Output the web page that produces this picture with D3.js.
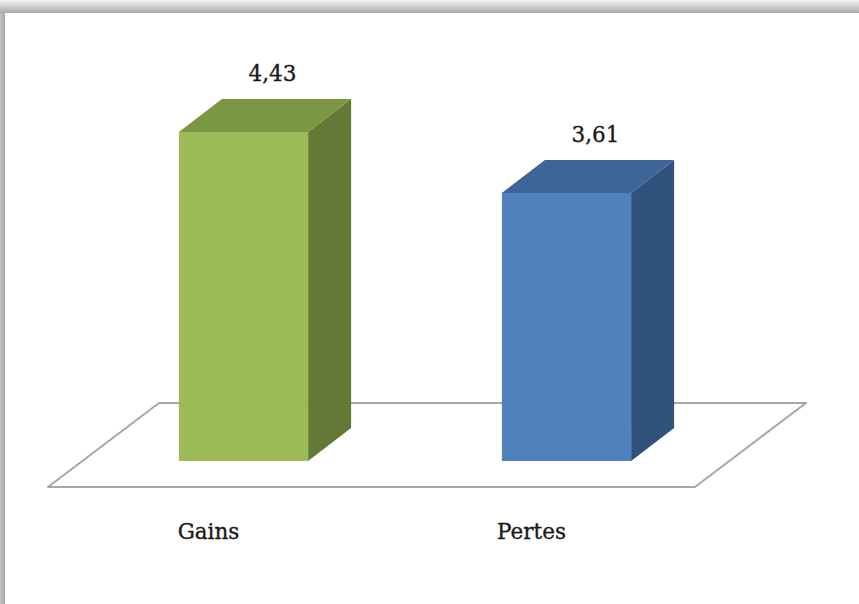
<!DOCTYPE html>
<html><head><meta charset="utf-8">
<script src="https://cdn.jsdelivr.net/npm/d3@7"></script>
<style>html,body{margin:0;padding:0;background:#fff;}svg{display:block;}</style>
</head><body>
<script>
const categories = ["Gains", "Pertes"];
const values = [4.43, 3.61];
const valueLabels = ["4,43", "3,61"];
const frontColors = ["#9BBB59", "#4F81BD"];
const topColors = ["#7B9744", "#3E6597"];
const sideColors = ["#627A36", "#30527D"];

const W = 859, H = 604;
const svg = d3.select("body").append("svg").attr("width", W).attr("height", H);
const defs = svg.append("defs");
const gTop = defs.append("linearGradient").attr("id","shTop").attr("x1",0).attr("y1",0).attr("x2",0).attr("y2",1);
gTop.append("stop").attr("offset","0%").attr("stop-color","#f2f2f2");
gTop.append("stop").attr("offset","100%").attr("stop-color","#a9a9a9");
const gLeft = defs.append("linearGradient").attr("id","shLeft").attr("x1",0).attr("y1",0).attr("x2",1).attr("y2",0);
gLeft.append("stop").attr("offset","0%").attr("stop-color","#c4c4c4");
gLeft.append("stop").attr("offset","100%").attr("stop-color","#a6a6a6");

svg.append("rect").attr("x",0).attr("y",0).attr("width",W).attr("height",H).attr("fill","#fff");
svg.append("rect").attr("x",0).attr("y",0).attr("width",W).attr("height",13).attr("fill","url(#shTop)");
svg.append("rect").attr("x",0).attr("y",13).attr("width",5).attr("height",H-13).attr("fill","url(#shLeft)");

// scales
const y = d3.scaleLinear().domain([0, 5]).range([461, 89.7]);
const x = d3.scaleBand().domain(categories).range([82, 728]).paddingInner(0.6).paddingOuter(0.3);
const bw = x.bandwidth();
const dx = 43, dy = -33;

// floor
const fx0 = 48, fy0 = 487, fw = 647, fdx = 111, fdy = -84;
svg.append("path")
  .attr("d", `M${fx0},${fy0} L${fx0+fw},${fy0} L${fx0+fw+fdx},${fy0+fdy} L${fx0+fdx},${fy0+fdy} Z`)
  .attr("fill","#fff").attr("stroke","#a6a6a6").attr("stroke-width",2).attr("stroke-linejoin","round");

const data = categories.map((c,i)=>({c, v:values[i], lab:valueLabels[i], i}));
const bars = svg.selectAll("g.bar").data(data).join("g").attr("class","bar");
// side
bars.append("path").attr("d", d => {
  const x1 = x(d.c)+bw, yt = y(d.v), yb = y(0);
  return `M${x1},${yt} L${x1+dx},${yt+dy} L${x1+dx},${yb+dy} L${x1},${yb} Z`;
}).attr("fill", d => sideColors[d.i]);
// top
bars.append("path").attr("d", d => {
  const x0 = x(d.c), yt = y(d.v);
  return `M${x0},${yt} L${x0+dx},${yt+dy} L${x0+bw+dx},${yt+dy} L${x0+bw},${yt} Z`;
}).attr("fill", d => topColors[d.i]);
// front
bars.append("rect").attr("x", d => x(d.c)).attr("y", d => y(d.v))
  .attr("width", bw).attr("height", d => y(0) - y(d.v)).attr("fill", d => frontColors[d.i]);

// value labels
svg.selectAll("text.val").data(data).join("text").attr("class","val")
  .attr("x", d => x(d.c) + bw/2 + 29).attr("y", d => y(d.v) - 51)
  .attr("text-anchor","middle").attr("font-family","'DejaVu Serif', serif").attr("font-size",21.5)
  .attr("fill","#1a1a1a").attr("stroke","#1a1a1a").attr("stroke-width",0.35).text(d => d.lab);

// category labels
svg.selectAll("text.cat").data(data).join("text").attr("class","cat")
  .attr("x", d => x(d.c) + bw/2 - 35).attr("y", 539)
  .attr("text-anchor","middle").attr("font-family","'DejaVu Serif', serif").attr("font-size",21.5)
  .attr("fill","#1a1a1a").attr("stroke","#1a1a1a").attr("stroke-width",0.35).text(d => d.c);
</script>
</body></html>
